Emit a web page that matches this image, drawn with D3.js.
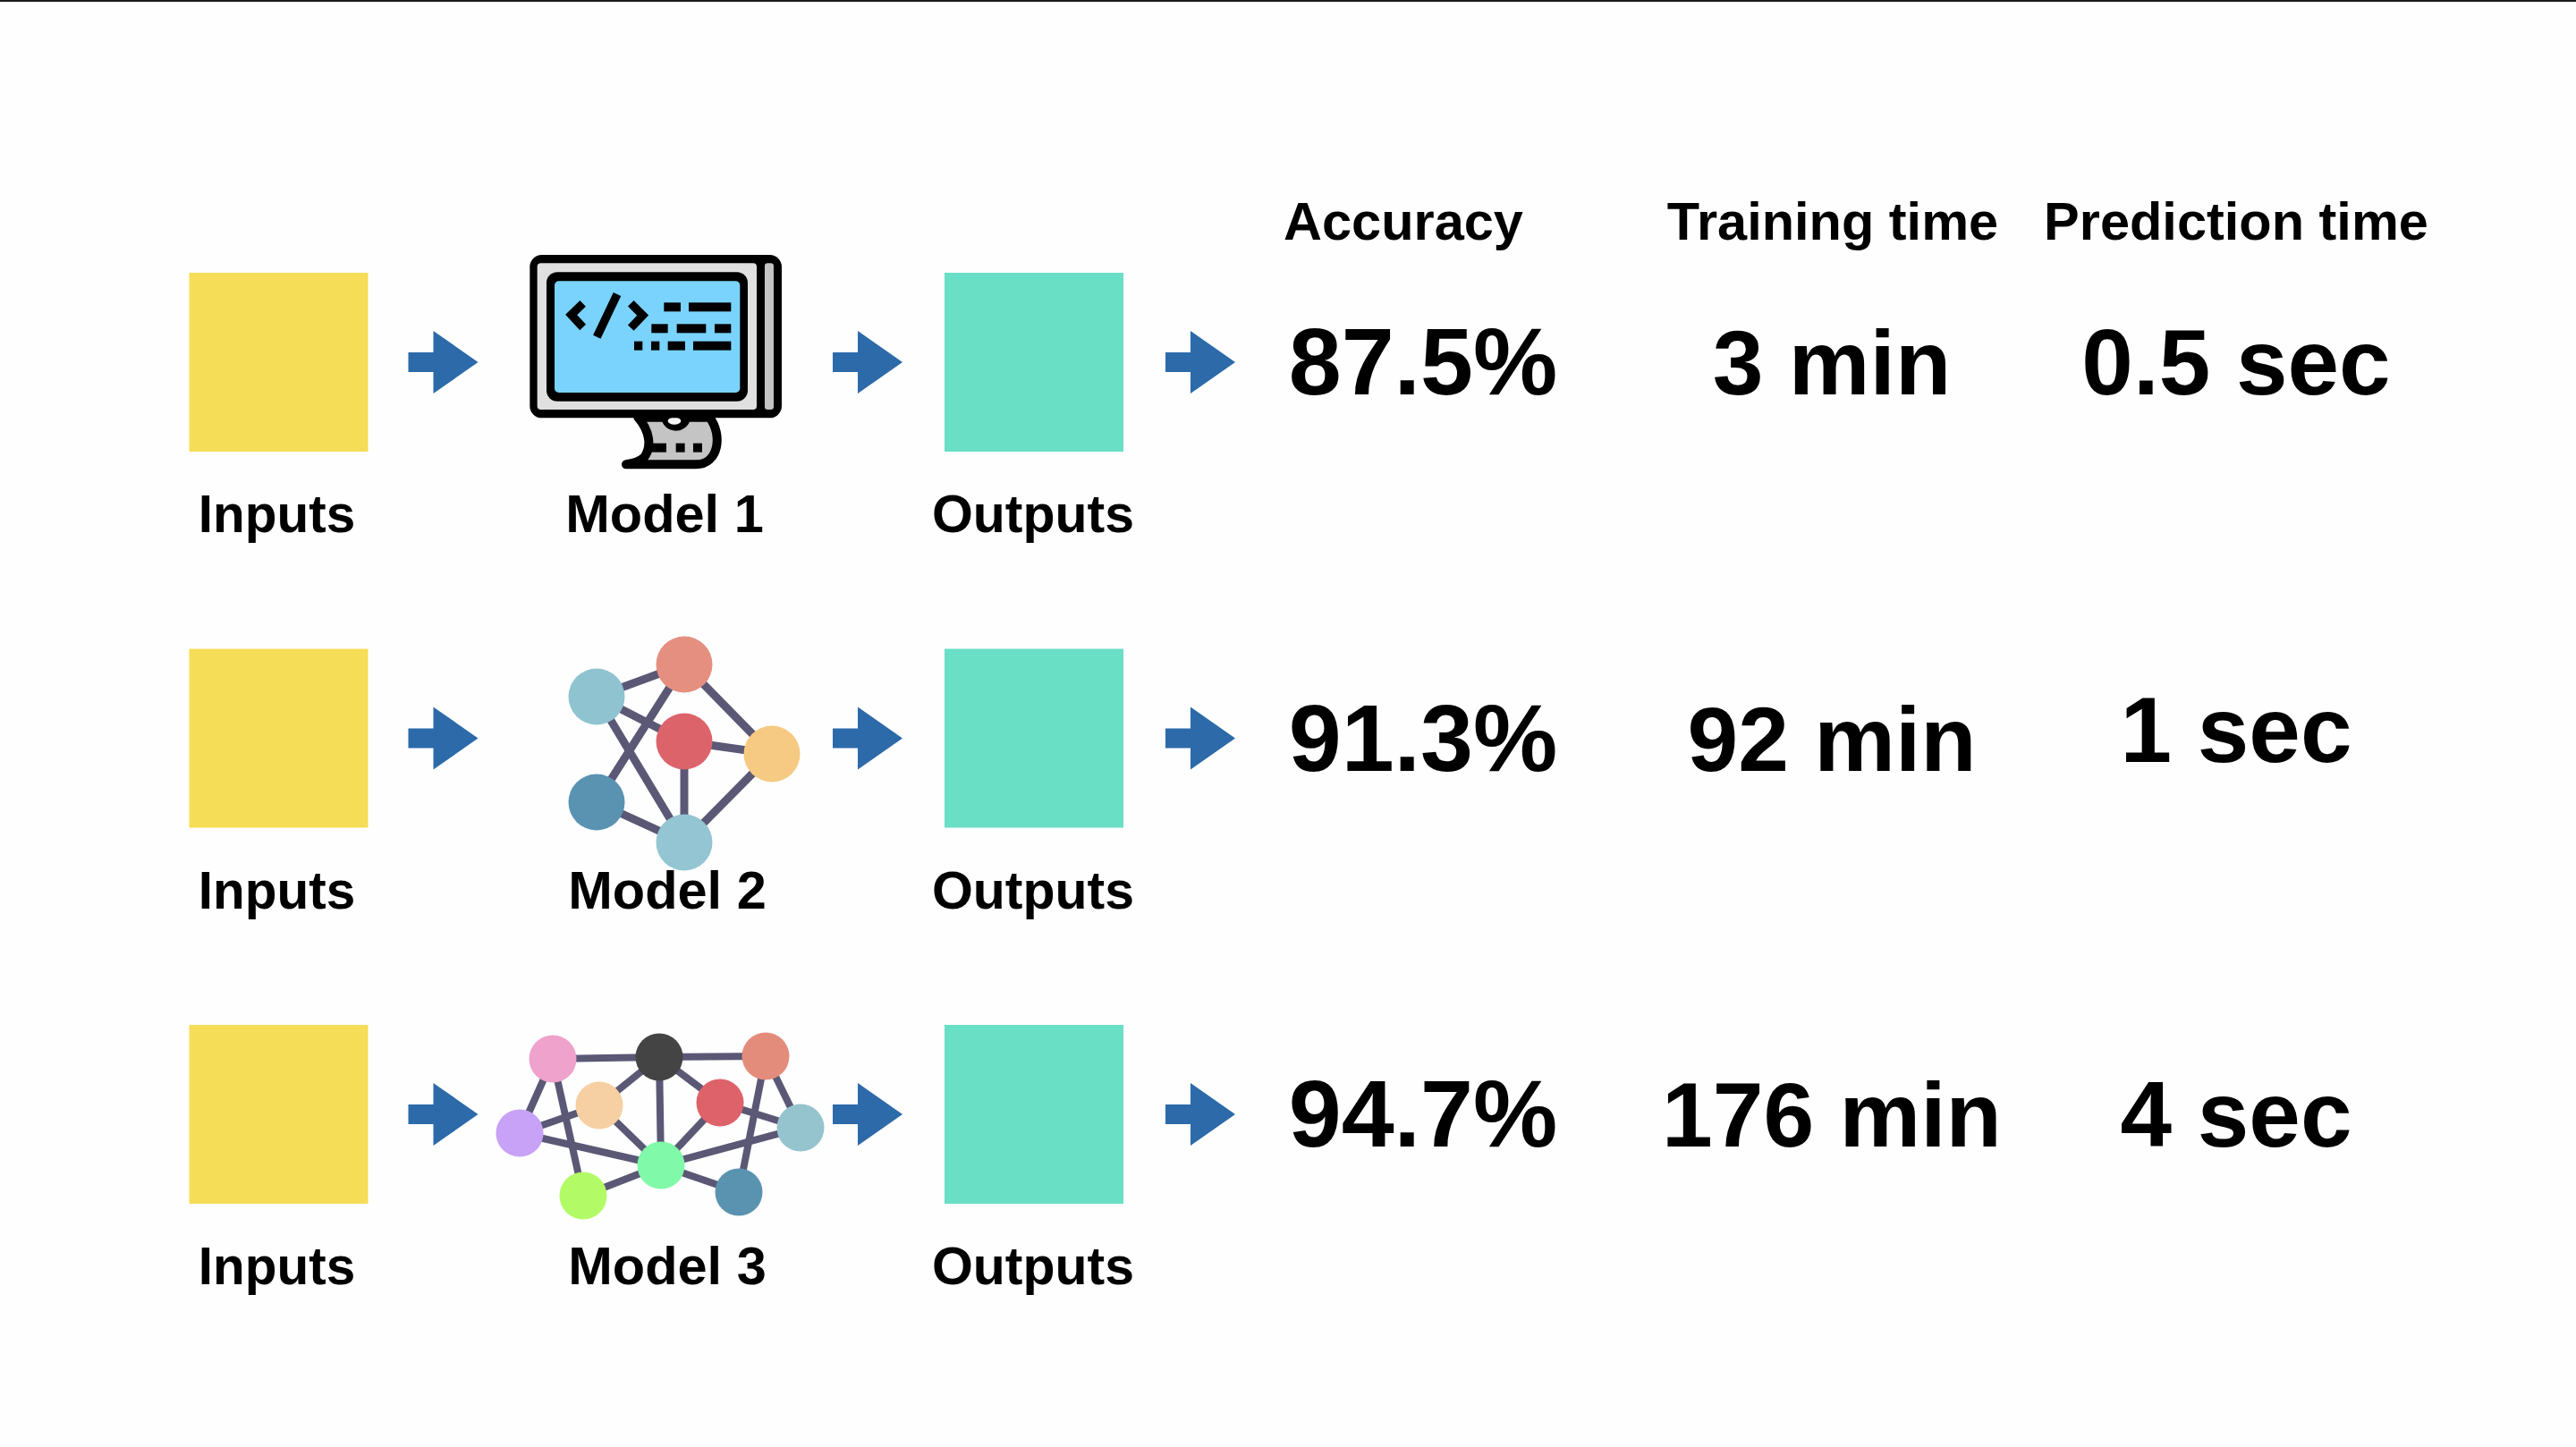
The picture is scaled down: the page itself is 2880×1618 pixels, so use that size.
<!DOCTYPE html>
<html>
<head>
<meta charset="utf-8">
<script src="https://cdn.jsdelivr.net/npm/d3@7"></script>
<style>
  html, body { margin: 0; padding: 0; background: #fefefe; }
  svg { display: block; }
  text { font-family: "Liberation Sans", Arial, sans-serif; font-weight: bold; fill: #000; }
</style>
</head>
<body>
<script>
const width = 2880;
const height = 1618;

// table values
const rows = ["Model 1", "Model 2", "Model 3"];
const metrics = ["Accuracy", "Training time", "Prediction time"];
const accuracy = ["87.5%", "91.3%", "94.7%"];
const trainingTime = ["3 min", "92 min", "176 min"];
const predictionTime = ["0.5 sec", "1 sec", "4 sec"];

// network icons, node positions read in page pixels
const net2Names = ["top", "left", "mid", "right", "lowLeft", "low"];
const net2X = [765, 667, 765, 863, 667, 765];
const net2Y = [743, 779, 829, 843, 897, 942];
const net2Colors = ["#e58f80", "#8fc3d0", "#dd636b", "#f6ca82", "#5a93b2", "#93c5d2"];
const net2Links = [[1, 0], [1, 2], [1, 5], [0, 4], [0, 3], [2, 3], [2, 5], [3, 5], [4, 5]];

const net3Names = ["pink", "black", "salmon", "peach", "red", "purple", "teal", "green", "lime", "blue"];
const net3X = [618, 737, 856, 670, 805, 581, 895, 739, 652, 826];
const net3Y = [1184, 1182, 1181, 1236, 1233, 1267, 1261, 1303, 1337, 1333];
const net3Colors = ["#eea2cc", "#444444", "#e48c7c", "#f6cfa2", "#dd626a", "#c8a2f6", "#95c4cf", "#80f9a8", "#b2fb66", "#5a93b0"];
const net3Links = [[0, 1], [1, 2], [0, 5], [0, 8], [3, 1], [4, 1], [1, 7], [3, 5], [3, 7], [5, 7], [4, 7], [4, 6], [2, 6], [2, 9], [6, 7], [7, 8], [7, 9]];

const y = d3.scalePoint().domain(rows).range([405, 1246]);
const valueX = d3.scaleOrdinal().domain(metrics).range([1591, 2048, 2500]);
const valueSize = d3.scaleOrdinal().domain(metrics).range([106, 102, 103.5]);
const headerX = d3.scaleOrdinal().domain(metrics).range([1569, 2049, 2500]);

const svg = d3
  .select("body")
  .append("svg")
  .attr("width", width)
  .attr("height", height)
  .attr("viewBox", "0 0 " + width + " " + height);

svg.append("rect").attr("width", width).attr("height", height).attr("fill", "#fefefe");
svg.append("rect").attr("width", width).attr("height", 2).attr("fill", "#1c1c1c");

// headers
svg
  .selectAll(".header")
  .data(metrics)
  .enter()
  .append("text")
  .attr("class", "header")
  .attr("x", (d) => headerX(d))
  .attr("y", 268)
  .attr("text-anchor", "middle")
  .attr("font-size", 59.5)
  .text((d) => d);

// one group per row
const row = svg
  .selectAll(".row")
  .data(rows)
  .enter()
  .append("g")
  .attr("class", "row")
  .attr("transform", (d) => "translate(0," + y(d) + ")");

function square(x, fill) {
  row
    .append("rect")
    .attr("x", x)
    .attr("y", -100)
    .attr("width", 200)
    .attr("height", 200)
    .attr("fill", fill);
}
square(211.5, "#f5dd57");
square(1056, "#69dfc6");

function arrow(x) {
  row
    .append("path")
    .attr("transform", "translate(" + x + ",0)")
    .attr("d", "M0,-11H28V-35L78,0L28,35V11H0Z")
    .attr("fill", "#2c6aa9");
}
arrow(456.5);
arrow(931);
arrow(1303);

function label(x, size, text) {
  row
    .append("text")
    .attr("x", x)
    .attr("y", 190)
    .attr("text-anchor", "middle")
    .attr("font-size", size)
    .text(text);
}
label(309.5, 58.5, "Inputs");
label(1155, 59, "Outputs");
row
  .append("text")
  .attr("x", (d, i) => (i == 0 ? 743 : 746))
  .attr("y", 190)
  .attr("text-anchor", "middle")
  .attr("font-size", 59.5)
  .text((d) => d);

// the values, "1 sec" sits a little higher in the original
function values(metric, list) {
  row
    .append("text")
    .attr("x", valueX(metric))
    .attr("y", (d, i) => (list[i] == "1 sec" ? 26 : 36))
    .attr("text-anchor", "middle")
    .attr("font-size", valueSize(metric))
    .text((d, i) => list[i]);
}
values("Accuracy", accuracy);
values("Training time", trainingTime);
values("Prediction time", predictionTime);

// network icons
function network(xs, ys, colors, links, radius, lineWidth) {
  const g = svg.append("g");
  g.selectAll("line")
    .data(links)
    .enter()
    .append("line")
    .attr("x1", (d) => xs[d[0]])
    .attr("y1", (d) => ys[d[0]])
    .attr("x2", (d) => xs[d[1]])
    .attr("y2", (d) => ys[d[1]])
    .attr("stroke", "#5b5876")
    .attr("stroke-width", lineWidth);
  g.selectAll("circle")
    .data(colors)
    .enter()
    .append("circle")
    .attr("cx", (d, i) => xs[i])
    .attr("cy", (d, i) => ys[i])
    .attr("r", radius)
    .attr("fill", (d) => d);
}
network(net2X, net2Y, net2Colors, net2Links, 31.5, 9);
network(net3X, net3Y, net3Colors, net3Links, 26.5, 8);

// monitor icon, drawn in the coordinates of a 3x crop
const monitor = svg.append("g").attr("transform", "translate(560,260) scale(0.3333)");

monitor
  .append("path")
  .attr("d", "M460,620C495,660 510,715 480,755C465,768 440,775 420,778H655C730,778 745,680 700,620Z")
  .attr("fill", "#c4c4c4")
  .attr("stroke", "#000")
  .attr("stroke-width", 30)
  .attr("stroke-linejoin", "round");
monitor
  .append("ellipse")
  .attr("cx", 587)
  .attr("cy", 620)
  .attr("rx", 48)
  .attr("ry", 45)
  .attr("fill", "#000");
monitor
  .append("ellipse")
  .attr("cx", 582)
  .attr("cy", 632)
  .attr("rx", 22)
  .attr("ry", 12)
  .attr("fill", "#f5f5f5");
monitor.append("rect").attr("x", 97).attr("y", 75).attr("width", 845).attr("height", 547).attr("rx", 40).attr("fill", "#000");
monitor.append("rect").attr("x", 122).attr("y", 103).attr("width", 736).attr("height", 491).attr("rx", 12).attr("fill", "#e0e0e0");
monitor.append("rect").attr("x", 885).attr("y", 103).attr("width", 30).attr("height", 491).attr("rx", 10).attr("fill", "#c4c4c4");
monitor.append("rect").attr("x", 153).attr("y", 133).attr("width", 675).attr("height", 433).attr("rx", 36).attr("fill", "#000");
monitor.append("rect").attr("x", 180).attr("y", 163).attr("width", 622).attr("height", 374).attr("rx", 14).attr("fill", "#7ad3fd");

const glyphs = ["M275,238L236,276L275,318", "M390,207L322,350", "M436,238L476,278L436,320"];
monitor
  .selectAll(".glyph")
  .data(glyphs)
  .enter()
  .append("path")
  .attr("class", "glyph")
  .attr("d", (d) => d)
  .attr("fill", "none")
  .attr("stroke", "#000")
  .attr("stroke-width", 28);

const dashes = [
  [547, 603, 250], [630, 772, 250],
  [505, 560, 322], [590, 688, 322], [717, 772, 322],
  [447, 475, 380], [504, 532, 380], [560, 618, 380], [645, 772, 380],
  [500, 555, 722], [587, 617, 722], [645, 675, 722],
];
monitor
  .selectAll(".dash")
  .data(dashes)
  .enter()
  .append("rect")
  .attr("class", "dash")
  .attr("x", (d) => d[0])
  .attr("y", (d) => d[2] - 15)
  .attr("width", (d) => d[1] - d[0])
  .attr("height", 30)
  .attr("fill", "#000");
</script>
</body>
</html>
